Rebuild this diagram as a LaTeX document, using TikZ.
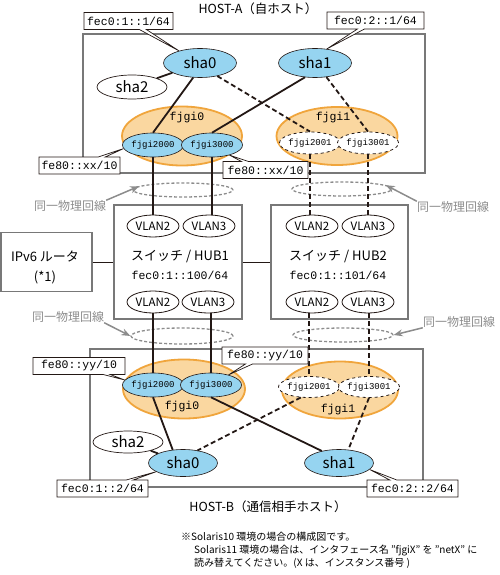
\documentclass[tikz,border=0pt]{standalone}
\usepackage{fontspec}
\setmainfont{Noto Sans CJK JP}
\setmonofont{Liberation Mono}
\usetikzlibrary{shapes.geometric,shapes.callouts,arrows.meta}
\definecolor{nicblue}{RGB}{150,212,240}
\definecolor{grpfill}{RGB}{250,215,160}
\definecolor{grpedge}{RGB}{240,165,60}
\definecolor{framegray}{RGB}{120,120,120}
\definecolor{wireblack}{RGB}{35,24,21}
\definecolor{samegray}{RGB}{140,140,140}
\begin{document}
\begin{tikzpicture}[x=1pt,y=-1pt,
		every node/.style={inner sep=0pt},
		hostframe/.style={draw=framegray, line width=1.2pt},
		grp/.style={shape=ellipse, draw=grpedge, fill=grpfill, line width=1.8pt},
		grplbl/.style={font=\ttfamily\fontsize{11.5}{12}\selectfont},
		nic/.style={shape=ellipse, draw=wireblack, fill=nicblue, line width=0.6pt},
		shanic/.style={nic, minimum width=73pt, minimum height=29pt, font=\fontsize{15}{16}\selectfont},
		shaidle/.style={shape=ellipse, draw=wireblack, fill=white, line width=0.7pt, minimum width=70pt, minimum height=24pt, font=\fontsize{15}{16}\selectfont},
		ifnic/.style={nic, minimum width=56pt, minimum height=24pt, font=\ttfamily\fontsize{9}{10}\selectfont},
		ifidle/.style={shape=ellipse, draw=wireblack, fill=white, dashed, line width=0.8pt, minimum width=55pt, minimum height=22pt, font=\ttfamily\fontsize{9}{10}\selectfont},
		vlan/.style={shape=ellipse, draw=wireblack, fill=white, line width=0.8pt, minimum width=52pt, minimum height=22pt, font=\fontsize{11.5}{12}\selectfont},
		addr/.style={rectangle callout, draw=wireblack, fill=white, line width=0.7pt, callout pointer width=7pt, minimum height=17pt, font=\ttfamily\fontsize{11.5}{12}\selectfont},
		same/.style={shape=ellipse, draw=samegray, dash pattern=on 3pt off 2pt, line width=1.3pt, minimum width=100pt, minimum height=14pt},
		samelbl/.style={text=samegray, font=\fontsize{12}{12}\selectfont},
		samearr/.style={draw=samegray, line width=1.5pt, -{Stealth[length=9pt,width=7pt]}},
		wire/.style={draw=wireblack, line width=1.8pt},
		backup/.style={wire, dash pattern=on 5pt off 3pt}]
	\useasboundingbox (0,0) rectangle (499,575);
	
	% hosts
	\draw[hostframe] (83,34) rectangle (425,173);
	\draw[hostframe] (90,349) rectangle (423,487);
	\node[font=\fontsize{12.5}{13}\selectfont] (hostalbl) at (258,9) {HOST-A（自ホスト）};
	\node[font=\fontsize{12.5}{13}\selectfont] (hostblbl) at (268,507) {HOST-B（通信相手ホスト）};
	
	% HOST-A
	\node[grp, minimum width=120pt, minimum height=59pt] (ga0) at (182,136) {};
	\node[grp, minimum width=121pt, minimum height=58pt] (ga1) at (337,136) {};
	\node[grplbl] (ga0lbl) at (187,118) {fjgi0};
	\node[grplbl] (ga1lbl) at (333,118) {fjgi1};
	\node[ifnic] (fa2000) at (153,145) {fjgi2000};
	\node[ifnic] (fa3000) at (212,145) {fjgi3000};
	\node[ifidle] (fa2001) at (310,143) {fjgi2001};
	\node[ifidle] (fa3001) at (368,143) {fjgi3001};
	\node[shanic] (sa0) at (200,63) {sha0};
	\node[shanic] (sa1) at (315,63) {sha1};
	\node[shaidle] (sa2) at (132,87) {sha2};
	
	% router and switches
	\node[hostframe, minimum width=91pt, minimum height=59pt] (router) at (46.5,262) {};
	\node[align=center, font=\fontsize{13}{20}\selectfont] (routerlbl) at (45,267) {IPv6 ルータ\\(*1)};
	\node[hostframe, minimum width=128pt, minimum height=114pt] (hub1) at (178,262) {};
	\node[hostframe, minimum width=137pt, minimum height=114pt] (hub2) at (339.5,262) {};
	\node[align=center, font=\fontsize{13}{19}\selectfont] (hub1lbl) at (180,264.5) {スイッチ / HUB1\\{\ttfamily\fontsize{11.5}{19}\selectfont fec0:1::100/64}};
	\node[align=center, font=\fontsize{13}{19}\selectfont] (hub2lbl) at (338,264.5) {スイッチ / HUB2\\{\ttfamily\fontsize{11.5}{19}\selectfont fec0:1::101/64}};
	\node[vlan] (va2) at (153,226) {VLAN2};
	\node[vlan] (va3) at (209,226) {VLAN3};
	\node[vlan] (vb2) at (153,302) {VLAN2};
	\node[vlan] (vb3) at (208,302) {VLAN3};
	\node[vlan] (vc2) at (312,226) {VLAN2};
	\node[vlan] (vc3) at (368,226) {VLAN3};
	\node[vlan] (vd2) at (312,302) {VLAN2};
	\node[vlan] (vd3) at (368,302) {VLAN3};
	\draw[draw=wireblack, line width=0.8pt] (router.east) -- (hub1.west);
	\draw[draw=wireblack, line width=0.8pt] (hub1.east) -- (hub2.west);
	
	% HOST-B
	\node[grp, minimum width=122pt, minimum height=59pt] (gb0) at (184,389) {};
	\node[grp, minimum width=116pt, minimum height=57pt] (gb1) at (340,390) {};
	\node[grplbl] (gb0lbl) at (182,407) {fjgi0};
	\node[grplbl] (gb1lbl) at (338,410) {fjgi1};
	\node[ifnic, minimum width=54pt] (fb2000) at (153,385) {fjgi2000};
	\node[ifnic, minimum width=55pt] (fb3000) at (211,385) {fjgi3000};
	\node[ifidle, minimum width=57pt, minimum height=21pt] (fb2001) at (309,387) {fjgi2001};
	\node[ifidle, minimum width=57pt, minimum height=21pt] (fb3001) at (369,387) {fjgi3001};
	\node[shanic, minimum width=69pt, minimum height=27pt] (sb0) at (183,463) {sha0};
	\node[shanic, minimum width=69pt, minimum height=27pt] (sb1) at (339,463) {sha1};
	\node[shaidle, minimum height=22pt] (sb2) at (128,442) {sha2};
	
	% same physical line
	\node[same] (samea) at (183,190) {};
	\node[same] (sameb) at (342,189) {};
	\node[same, minimum width=102pt, minimum height=16pt] (samec) at (182,336) {};
	\node[same] (samed) at (343,335) {};
	\node[samelbl] (samealbl) at (70,206) {同一物理回線};
	\node[samelbl] (sameblbl) at (453,207) {同一物理回線};
	\node[samelbl] (sameclbl) at (68,317) {同一物理回線};
	\node[samelbl] (samedlbl) at (459,322) {同一物理回線};
	\draw[samearr] (samealbl.north east) -- (samea.175);
	\draw[samearr] (sameblbl.north west) -- (sameb.5);
	\draw[samearr] (sameclbl.south east) -- (samec.west);
	\draw[samearr] (samedlbl.south west) -- (samed.east);
	
	% connections
	\draw[wire] (fa2000.south) -- (fa2000.south |- va2.north);
	\draw[wire] (fa3000.south) -- (fa3000.south |- va3.north);
	\draw[backup] (fa2001.south) -- (fa2001.south |- vc2.north);
	\draw[backup] (fa3001.south) -- (fa3001.south |- vc3.north);
	\draw[wire] (fb2000.north |- vb2.south) -- (fb2000.north);
	\draw[wire] (fb3000.north |- vb3.south) -- (fb3000.north);
	\draw[backup] (fb2001.north |- vd2.south) -- (fb2001.north);
	\draw[backup] (fb3001.north |- vd3.south) -- (fb3001.north);
	\draw[wire] (sa0) -- (sa2);
	\draw[wire] (sa0.245) -- (fa2000.north);
	\draw[wire] (sa1.235) -- (fa3000.north);
	\draw[backup] (sa0.323) -- (fa2001.north);
	\draw[backup] (sa1.309) -- (fa3001.north);
	\draw[wire] (sb0) -- (sb2);
	\draw[wire] (fb2000.south) -- (sb0.128);
	\draw[wire] (fb3000.south) -- (sb1.145);
	\draw[backup] (fb2001.232) -- (sb0.41);
	\draw[backup] (fb3001.south) -- (sb1.55);
	
	% addresses
	\node[addr, minimum width=89pt, callout absolute pointer={(sa0.150)}] (ca1) at (128.5,21) {fec0:1::1/64};
	\node[addr, minimum width=97pt, callout absolute pointer={(sa1.50)}] (ca2) at (375.5,20.5) {fec0:2::1/64};
	\node[addr, minimum width=81pt, callout absolute pointer={(fa2000.187)}] (cxa) at (79.5,165.5) {fe80::xx/10};
	\node[addr, minimum width=85pt, callout absolute pointer={(fa3000.-30)}] (cxb) at (265.5,170) {fe80::xx/10};
	\node[addr, minimum width=92pt, callout absolute pointer={(fb2000.170)}] (cya) at (79,366) {fe80::yy/10};
	\node[addr, minimum width=86pt, callout absolute pointer={(fb3000.30)}] (cyb) at (265,355.5) {fe80::yy/10};
	\node[addr, minimum width=91pt, callout absolute pointer={(sb0.198)}] (cb1) at (102.5,488.5) {fec0:1::2/64};
	\node[addr, minimum width=91pt, callout absolute pointer={(sb1.-12)}] (cb2) at (412.5,488.5) {fec0:2::2/64};
	
	% note
	\node[anchor=north west, align=left, font=\fontsize{10}{13}\selectfont] (note) at (181,532) {※Solaris10 環境の場合の構成図です。\\\hspace*{1.3em}Solaris11 環境の場合は、インタフェース名 ”fjgiX” を ”netX” に\\\hspace*{1.3em}読み替えてください。(X は、インスタンス番号 )};
\end{tikzpicture}
\end{document}
